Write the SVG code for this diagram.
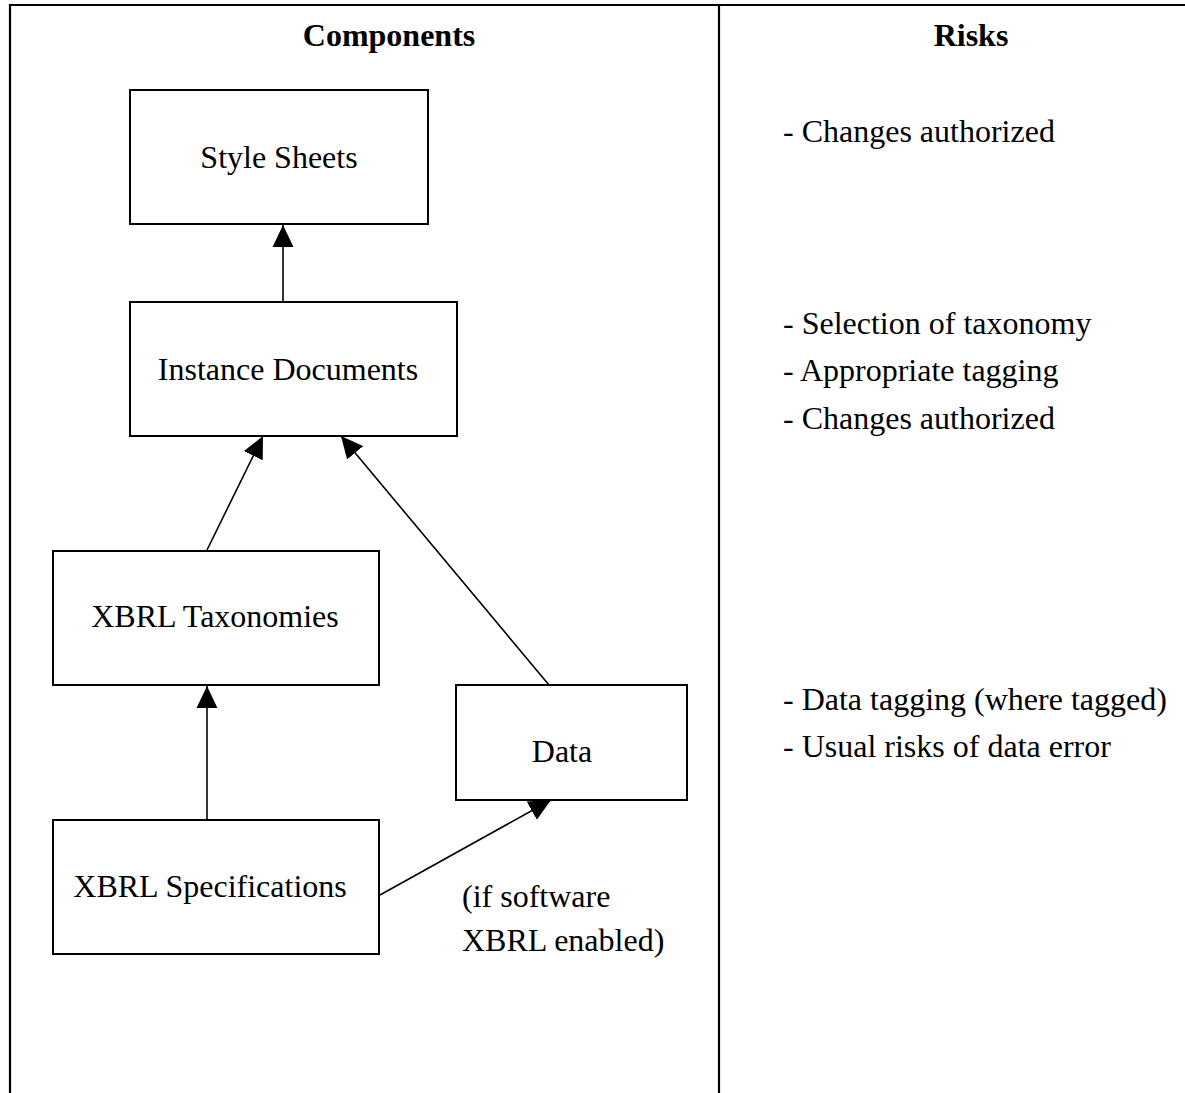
<svg xmlns="http://www.w3.org/2000/svg" width="1185" height="1093" viewBox="0 0 1185 1093">
  <style>
    .frame { stroke: #000; stroke-width: 2.2; fill: none; }
    .box { fill: #fff; stroke: #000; stroke-width: 2; }
    .conn { stroke: #000; stroke-width: 1.6; fill: none; marker-end: url(#arrow); }
    text { font-family: "Liberation Serif", "Times New Roman", serif; font-size: 32px; fill: #000; }
    .hdr { font-weight: bold; text-anchor: middle; }
    .lbl { text-anchor: middle; }
  </style>
  <defs>
    <marker id="arrow" markerUnits="userSpaceOnUse" markerWidth="22" markerHeight="22" viewBox="0 0 21 20" refX="21" refY="10" orient="auto">
      <path d="M0,0 L21,10 L0,20 Z" fill="#000"/>
    </marker>
  </defs>
  <rect width="1185" height="1093" fill="#fff"/>

  <g id="table">
    <line class="frame" x1="9" y1="5" x2="1185" y2="5"/>
    <line class="frame" x1="10" y1="4" x2="10" y2="1093"/>
    <line class="frame" x1="719" y1="4" x2="719" y2="1093"/>
    <text class="hdr" x="389" y="46">Components</text>
    <text class="hdr" x="971" y="46">Risks</text>
  </g>

  <g id="connectors">
    <line class="conn" x1="283" y1="302" x2="283" y2="225"/>
    <line class="conn" x1="207" y1="550" x2="263" y2="436"/>
    <line class="conn" x1="549" y1="685" x2="341" y2="436"/>
    <line class="conn" x1="207" y1="820" x2="207" y2="686"/>
    <line class="conn" x1="380" y1="895" x2="551" y2="800"/>
  </g>

  <g id="style-sheets">
    <rect class="box" x="130" y="90" width="298" height="134"/>
    <text class="lbl" x="279" y="168">Style Sheets</text>
  </g>
  <g id="instance-documents">
    <rect class="box" x="130" y="302" width="327" height="134"/>
    <text class="lbl" x="288" y="380">Instance Documents</text>
  </g>
  <g id="xbrl-taxonomies">
    <rect class="box" x="53" y="551" width="326" height="134"/>
    <text class="lbl" x="215" y="627">XBRL Taxonomies</text>
  </g>
  <g id="data">
    <rect class="box" x="456" y="685" width="231" height="115"/>
    <text class="lbl" x="562" y="762">Data</text>
  </g>
  <g id="xbrl-specifications">
    <rect class="box" x="53" y="820" width="326" height="134"/>
    <text class="lbl" x="210" y="897">XBRL Specifications</text>
  </g>

  <g id="connector-label">
    <text x="462" y="907">(if software</text>
    <text x="462" y="951">XBRL enabled)</text>
  </g>

  <g id="risks">
    <text x="783" y="142">- Changes authorized</text>
    <text x="783" y="334">- Selection of taxonomy</text>
    <text x="783" y="381">- Appropriate tagging</text>
    <text x="783" y="429">- Changes authorized</text>
    <text x="783" y="710">- Data tagging (where tagged)</text>
    <text x="783" y="757">- Usual risks of data error</text>
  </g>
</svg>
